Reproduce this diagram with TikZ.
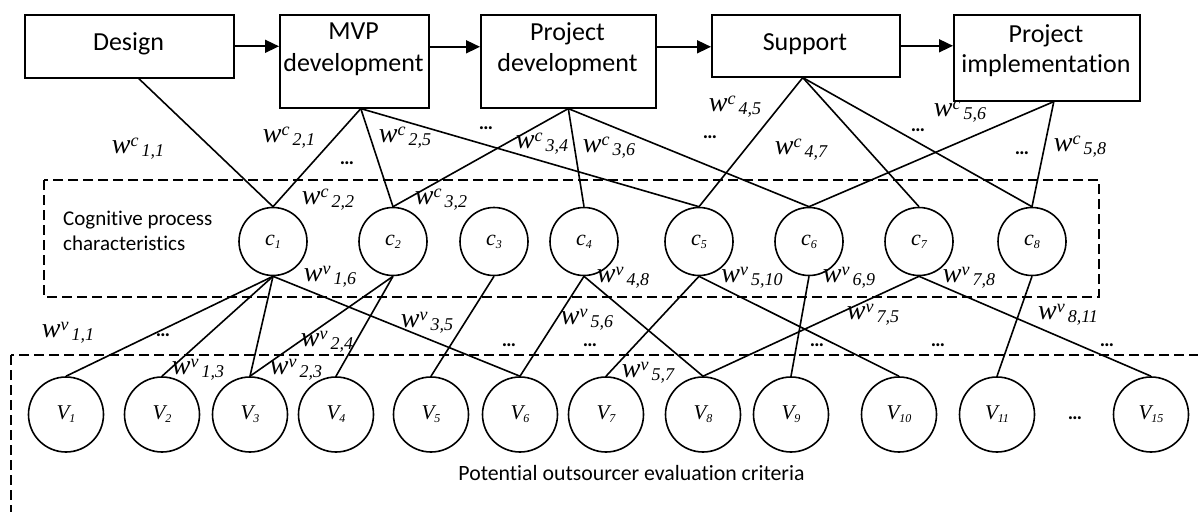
\documentclass[tikz,border=0pt]{standalone}
\usepackage{fontspec}
\setmainfont{Carlito}[Ligatures=NoCommon]
\newfontfamily\tnr{Liberation Serif}
\usetikzlibrary{arrows.meta}
\newcommand{\wl}[2]{{\tnr\itshape\fontsize{28}{28}\selectfont w\raisebox{7pt}{\fontsize{18}{18}\selectfont #1}\raisebox{-3pt}{\fontsize{18}{18}\selectfont\,#2}}}
\newcommand{\cl}[1]{{\tnr\itshape\fontsize{22}{22}\selectfont c\raisebox{-3pt}{\fontsize{12}{12}\selectfont #1}}}
\newcommand{\vl}[1]{{\tnr\itshape\fontsize{21}{21}\selectfont V\raisebox{-3pt}{\fontsize{12}{12}\selectfont #1}}}
\newcommand{\dd}{{\fontsize{20}{20}\selectfont\bfseries …}}
\begin{document}
\begin{tikzpicture}[x=1pt,y=-1pt,
  stagebox/.style={draw,line width=1.6pt,inner sep=0,anchor=north west},
  stagetxt/.style={inner sep=0,anchor=base,font=\fontsize{26}{30}\selectfont},
  cnode/.style={draw,circle,line width=1.6pt,minimum size=68pt,inner sep=0},
  vnode/.style={draw,circle,line width=1.6pt,minimum size=75pt,inner sep=0},
  conn/.style={line width=1.6pt},
  arr/.style={line width=1.6pt,-{Triangle[length=14pt,width=13pt]}},
  dashbox/.style={draw,line width=1.6pt,dash pattern=on 10pt off 5pt},
  lab/.style={inner sep=0,anchor=center}]
\useasboundingbox (0,0) rectangle (1198,511);
\clip (0,0) rectangle (1198,511);
\fill[white] (0,0) rectangle (1198,511);

% stage boxes
\node[stagebox,minimum width=209pt,minimum height=63pt] (design) at (24,14) {};
\node[stagebox,minimum width=149pt,minimum height=93pt] (mvp) at (279,14) {};
\node[stagebox,minimum width=175pt,minimum height=93pt] (pdev) at (480,14) {};
\node[stagebox,minimum width=188pt,minimum height=62pt] (supp) at (711,14) {};
\node[stagebox,minimum width=186pt,minimum height=86pt] (pimpl) at (953,14) {};

\node[stagetxt] (tdesign) at (128.5,51) {Design};
\node[stagetxt] (tmvp1) at (353.5,40) {MVP};
\node[stagetxt] (tmvp2) at (353.5,71) {development};
\node[stagetxt] (tpdev1) at (567.5,41) {Project};
\node[stagetxt] (tpdev2) at (567.5,71) {development};
\node[stagetxt] (tsupp) at (805,51) {Support};
\node[stagetxt] (tpimpl1) at (1046,42) {Project};
\node[stagetxt] (tpimpl2) at (1046,72) {implementation};

% arrows
\draw[arr] (design.east) -- (design.east -| mvp.west);
\draw[arr] ([yshift=14.5pt]mvp.east) -- ([yshift=14.5pt]pdev.west);
\draw[arr] ([yshift=14.5pt]pdev.east) -- ([yshift=14.5pt]pdev.east -| supp.west);
\draw[arr] (supp.east) -- (supp.east -| pimpl.west);

% dashed groups
\draw[dashbox] (44,180) rectangle (1099,297);
\draw[dashbox] (11,355) rectangle (1230,540);
\node[inner sep=0,anchor=base west,font=\fontsize{21}{25}\selectfont] (cog1) at (63,225) {Cognitive process};
\node[inner sep=0,anchor=base west,font=\fontsize{21}{25}\selectfont] (cog2) at (63,250) {characteristics};
\node[inner sep=0,anchor=base,font=\fontsize{21.8}{25}\selectfont] (pot) at (631.5,480) {Potential outsourcer evaluation criteria};

% cognitive nodes
\node[cnode] (c1) at (273,241.5) {\cl{1}};
\node[cnode] (c2) at (393,241.5) {\cl{2}};
\node[cnode] (c3) at (494,241.5) {\cl{3}};
\node[cnode] (c4) at (584,241.5) {\cl{4}};
\node[cnode] (c5) at (699,241.5) {\cl{5}};
\node[cnode] (c6) at (809,241.5) {\cl{6}};
\node[cnode] (c7) at (919,241.5) {\cl{7}};
\node[cnode] (c8) at (1032,241.5) {\cl{8}};

% criteria nodes
\node[vnode] (v1) at (66,414.5) {\vl{1}};
\node[vnode] (v2) at (162,414.5) {\vl{2}};
\node[vnode] (v3) at (250,414.5) {\vl{3}};
\node[vnode] (v4) at (336,414.5) {\vl{4}};
\node[vnode] (v5) at (431,414.5) {\vl{5}};
\node[vnode] (v6) at (520,414.5) {\vl{6}};
\node[vnode] (v7) at (606,414.5) {\vl{7}};
\node[vnode] (v8) at (703,414.5) {\vl{8}};
\node[vnode] (v9) at (791,414.5) {\vl{9}};
\node[vnode] (v10) at (899,414.5) {\vl{10}};
\node[vnode] (v11) at (997,414.5) {\vl{11}};
\node[vnode] (v15) at (1151,414.5) {\vl{15}};

% stage -> cognitive
\draw[conn] ([xshift=9.5pt]design.south) -- (c1.north);
\draw[conn] ([xshift=6.5pt]mvp.south) -- (c1.north);
\draw[conn] ([xshift=6.5pt]mvp.south) -- (c2.north);
\draw[conn] ([xshift=6.5pt]mvp.south) -- (c5.north);
\draw[conn] (pdev.south) -- (c2.north);
\draw[conn] (pdev.south) -- (c4.north);
\draw[conn] (pdev.south) -- (c6.north);
\draw[conn] ([xshift=-3pt]supp.south) -- (c5.north);
\draw[conn] ([xshift=-3pt]supp.south) -- (c7.north);
\draw[conn] ([xshift=-3pt]supp.south) -- (c8.north);
\draw[conn] ([xshift=7pt]pimpl.south) -- (c6.north);
\draw[conn] ([xshift=7pt]pimpl.south) -- (c8.north);

% cognitive -> criteria
\draw[conn] (c1.south) -- (v1.north);
\draw[conn] (c1.south) -- (v2.north);
\draw[conn] (c1.south) -- (v3.north);
\draw[conn] (c1.south) -- (v6.north);
\draw[conn] (c2.south) -- (v3.north);
\draw[conn] (c2.south) -- (v4.north);
\draw[conn] (c3.south) -- (v5.north);
\draw[conn] (c4.south) -- (v6.north);
\draw[conn] (c4.south) -- (v8.north);
\draw[conn] (c5.south) -- (v7.north);
\draw[conn] (c5.south) -- (v10.north);
\draw[conn] (c6.south) -- (v9.north);
\draw[conn] (c7.south) -- (v8.north);
\draw[conn] (c7.south) -- (v15.north);
\draw[conn] (c8.south) -- (v11.north);

% weight labels (stage -> cognitive)
\node[lab] (wc11) at (138,149) {\wl{c}{1,1}};
\node[lab] (wc21) at (289,138) {\wl{c}{2,1}};
\node[lab] (wc25) at (405,138) {\wl{c}{2,5}};
\node[lab] (wc34) at (542,144) {\wl{c}{3,4}};
\node[lab] (wc36) at (609,148) {\wl{c}{3,6}};
\node[lab] (wc22) at (328,200) {\wl{c}{2,2}};
\node[lab] (wc32) at (441,200) {\wl{c}{3,2}};
\node[lab] (wc45) at (735,107) {\wl{c}{4,5}};
\node[lab] (wc47) at (801,150) {\wl{c}{4,7}};
\node[lab] (wc56) at (960,112) {\wl{c}{5,6}};
\node[lab] (wc58) at (1080,147) {\wl{c}{5,8}};

% weight labels (cognitive -> criteria)
\node[lab] (wv16) at (330,277) {\wl{v}{1,6}};
\node[lab] (wv11) at (68,333) {\wl{v}{1,1}};
\node[lab] (wv35) at (427,323) {\wl{v}{3,5}};
\node[lab] (wv24) at (327,342) {\wl{v}{2,4}};
\node[lab] (wv13) at (198,370) {\wl{v}{1,3}};
\node[lab] (wv23) at (296,370) {\wl{v}{2,3}};
\node[lab] (wv56) at (587,320) {\wl{v}{5,6}};
\node[lab] (wv57) at (648,373) {\wl{v}{5,7}};
\node[lab] (wv75) at (873,315) {\wl{v}{7,5}};
\node[lab] (wv48) at (623,278) {\wl{v}{4,8}};
\node[lab] (wv510) at (752,278) {\wl{v}{5,10}};
\node[lab] (wv69) at (849,278) {\wl{v}{6,9}};
\node[lab] (wv78) at (969,278) {\wl{v}{7,8}};
\node[lab] (wv811) at (1068,315) {\wl{v}{8,11}};

% ellipses
\node[lab] (d1) at (486,128) {\dd};
\node[lab] (d2) at (347,163) {\dd};
\node[lab] (d3) at (710,137) {\dd};
\node[lab] (d4) at (918,130) {\dd};
\node[lab] (d5) at (1022,153) {\dd};
\node[lab] (d6) at (163,335) {\dd};
\node[lab] (d7) at (509,345) {\dd};
\node[lab] (d8) at (590,345) {\dd};
\node[lab] (d9) at (817,345) {\dd};
\node[lab] (d10) at (938,345) {\dd};
\node[lab] (d11) at (1107,345) {\dd};
\node[lab] (d12) at (1075,418) {\dd};
\end{tikzpicture}
\end{document}
